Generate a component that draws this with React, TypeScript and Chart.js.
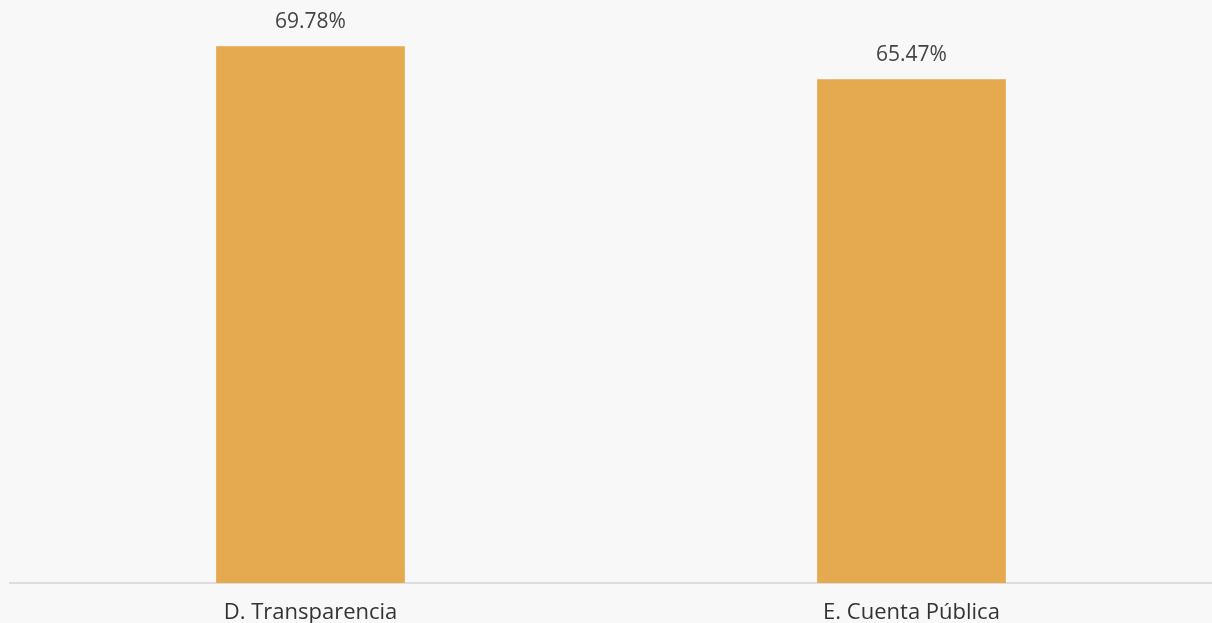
import React, { useEffect, useRef } from "react";
import { Chart, registerables } from "chart.js";

Chart.register(...registerables);

const categories: string[] = ["D. Transparencia", "E. Cuenta Pública"];
const values: number[] = [69.78, 65.47];

const barColor = "#E5A94F";

const valueLabels = {
  id: "valueLabels",
  afterDatasetsDraw(chart: any) {
    const ctx = chart.ctx;
    const meta = chart.getDatasetMeta(0);
    ctx.save();
    ctx.font = '21px "Open Sans"';
    ctx.fillStyle = "#444444";
    ctx.textAlign = "center";
    ctx.textBaseline = "bottom";
    meta.data.forEach((el: any, i: number) => {
      const { x, y } = el.getProps(["x", "y"], true);
      ctx.fillText(values[i].toFixed(2) + "%", x, y - 14);
    });
    ctx.restore();
  },
};

const bgPlugin = {
  id: "bg",
  beforeDraw(chart: any) {
    const ctx = chart.ctx;
    ctx.save();
    ctx.fillStyle = "#F8F8F8";
    ctx.fillRect(0, 0, chart.width, chart.height);
    ctx.restore();
  },
};

export default function App() {
  const ref = useRef<HTMLCanvasElement>(null);
  useEffect(() => {
    document.body.style.margin = "0";
    document.body.style.background = "#F8F8F8";
    const chart = new Chart(ref.current!, {
      type: "bar",
      data: {
        labels: categories,
        datasets: [
          {
            data: values,
            backgroundColor: barColor,
            borderWidth: 0,
            barPercentage: 0.314,
            categoryPercentage: 1,
          },
        ],
      },
      options: {
        animation: false,
        responsive: false,
        maintainAspectRatio: false,
        layout: { padding: { left: 10, right: 0, top: 6, bottom: 0 } },
        plugins: { legend: { display: false }, tooltip: { enabled: false } },
        scales: {
          x: {
            grid: { display: false, drawTicks: false },
            border: { display: true, color: "#DDDDDD", width: 2 },
            ticks: {
              color: "#333333",
              font: { family: '"Open Sans"', size: 22 },
              padding: 17,
              maxRotation: 0,
            },
            afterFit: (scale: any) => {
              scale.height = 40;
            },
          },
          y: {
            display: false,
            min: 0,
            max: 75,
          },
        },
      },
      plugins: [bgPlugin, valueLabels],
    });
    return () => chart.destroy();
  }, []);
  return (
    <div style={{ width: 1212, height: 623, background: "#F8F8F8" }}>
      <canvas ref={ref} width={1212} height={623} style={{ display: "block" }} />
    </div>
  );
}
